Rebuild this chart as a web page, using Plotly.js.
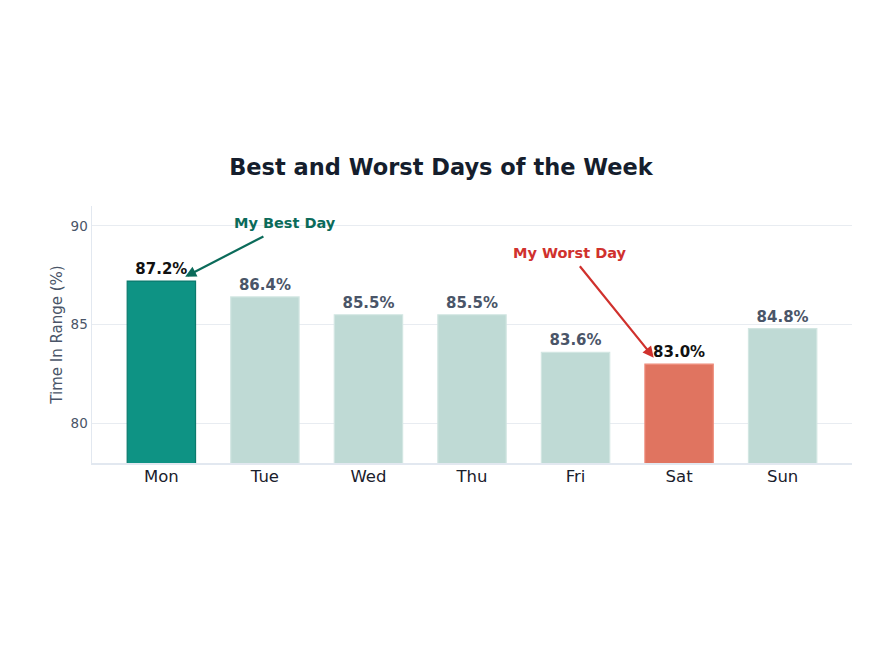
<!DOCTYPE html>
<html><head><meta charset="utf-8">
<script src="https://cdn.plot.ly/plotly-3.0.1.min.js"></script>
<style>html,body{margin:0;padding:0;background:#fff}#chart{width:882px;height:662px}</style>
</head><body><div id="chart"></div>
<script>
const days = ["Mon","Tue","Wed","Thu","Fri","Sat","Sun"];
const tir = [87.2, 86.4, 85.5, 85.5, 83.6, 83.0, 84.8];
const labels = ["87.2%","86.4%","85.5%","85.5%","83.6%","83.0%","84.8%"];
const yTicks = [80, 85, 90];

const best = tir.indexOf(Math.max(...tir));
const worst = tir.indexOf(Math.min(...tir));
const barColors = tir.map((v,i)=> i===best ? "#0e9384" : i===worst ? "#e07460" : "#bfdad5");
const lineColors = tir.map((v,i)=> i===best ? "#0b7a6d" : i===worst ? "#ee8a78" : "#d2e6e2");
const textColors = tir.map((v,i)=> (i===best||i===worst) ? "#111111" : "#4a5568");

const trace = {
  type: "bar", x: days, y: tir, text: labels, textposition: "outside",
  textfont: {family: "DejaVu Sans", size: 15, color: textColors, weight: "bold"},
  marker: {color: barColors, line: {color: lineColors, width: 1.2}},
  width: 0.66, cliponaxis: false, hoverinfo: "skip"
};

const layout = {
  width: 882, height: 662,
  margin: {l: 92, r: 30, t: 206, b: 199},
  paper_bgcolor: "#ffffff", plot_bgcolor: "#ffffff",
  font: {family: "DejaVu Sans", color: "#4a5568"},
  title: {text: "<b>Best and Worst Days of the Week</b>", x: 0.5, xanchor: "center", y: 0.747, yanchor: "middle",
          font: {family: "DejaVu Sans", size: 22.5, color: "#151e2d"}},
  xaxis: {range: [-0.67, 6.67], showgrid: false, ticks: "", showline: true, linecolor: "#e2e8f0", linewidth: 1.5,
          tickfont: {family: "DejaVu Sans", size: 16.5, color: "#1a202c"}, zeroline: false, ticklabelstandoff: -2},
  yaxis: {range: [78, 91], tickvals: yTicks, showgrid: true, gridcolor: "#e8ecf1", gridwidth: 1,
          showline: true, linecolor: "#e2e8f0", linewidth: 1.5, ticks: "", zeroline: false,
          tickfont: {family: "DejaVu Sans", size: 13.5, color: "#4a5568"},
          title: {text: "Time In Range (%)", font: {family: "DejaVu Sans", size: 15, color: "#4a5568"}, standoff: 4}},
  showlegend: false,
  annotations: [
    {x: 1.196, y: 90.15, xref: "x", yref: "y", text: "<b>My Best Day</b>", showarrow: false,
     font: {family: "DejaVu Sans", size: 14.5, color: "#0b6b5a"}},
    {x: 0.23, y: 87.42, ax: 1.0, ay: 89.5, xref: "x", yref: "y", axref: "x", ayref: "y", text: "",
     showarrow: true, arrowhead: 2, arrowsize: 1, arrowwidth: 2.2, arrowcolor: "#0b6b5a", standoff: 0},
    {x: 3.945, y: 88.64, xref: "x", yref: "y", text: "<b>My Worst Day</b>", showarrow: false,
     font: {family: "DejaVu Sans", size: 14.5, color: "#d0312d"}},
    {x: 4.755, y: 83.33, ax: 4.03, ay: 88.03, xref: "x", yref: "y", axref: "x", ayref: "y", text: "",
     showarrow: true, arrowhead: 2, arrowsize: 1, arrowwidth: 2.2, arrowcolor: "#d0312d", standoff: 0}
  ]
};

Plotly.newPlot("chart", [trace], layout, {displayModeBar: false, staticPlot: true});
</script>
</body></html>
